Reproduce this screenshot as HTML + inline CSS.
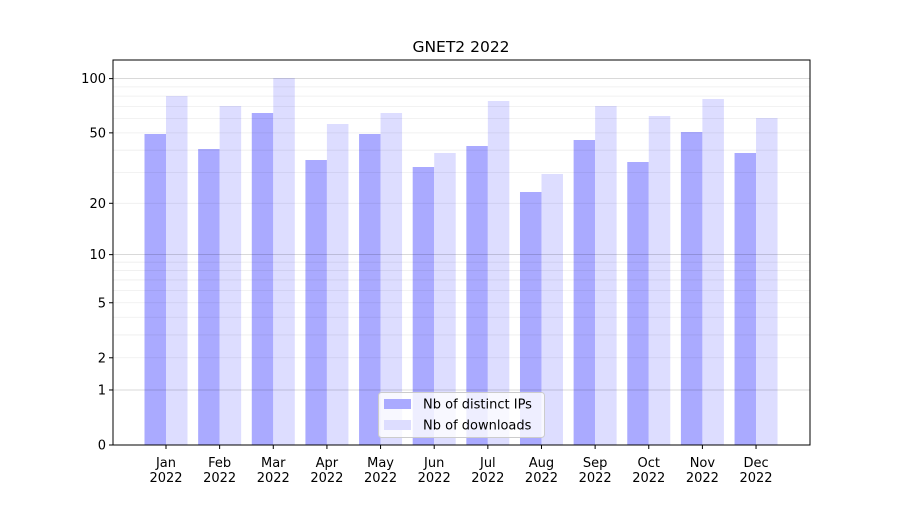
<!DOCTYPE html>
<html><head><meta charset="utf-8"><style>
html,body{margin:0;padding:0;background:#fff;}
svg text{font-family:"DejaVu Sans","Liberation Sans",sans-serif;fill:#000;}
</style></head><body>
<svg id="s" width="900" height="500" xmlns="http://www.w3.org/2000/svg"></svg>
<script>
const s=document.getElementById('s');
let h='';
const K=182.8, Y0=445;
const y=v=>Y0-K*Math.log10(1+v);
const L=113,R=810,T=60;
const dark=[134,149,113,160,134,167,146,192,140,162,132,153];
const light=[96,106,78,124,113,153,101,174,106,116,99,118];
const mons=['Jan','Feb','Mar','Apr','May','Jun','Jul','Aug','Sep','Oct','Nov','Dec'];
const sp=53.64, bw=21.5;
for(let i=0;i<12;i++){
 const c=166+i*sp;
 h+=`<rect x="${c-bw}" y="${dark[i]}" width="${bw}" height="${Y0-dark[i]}" fill="#aaaaff"/>`;
 h+=`<rect x="${c}" y="${light[i]}" width="${bw}" height="${Y0-light[i]}" fill="#ddddff"/>`;
}
// minor grid
for(const d of [1,10]) for(let m=2;m<=9;m++){const v=d*m;const yy=y(v);h+=`<line x1="${L}" x2="${R}" y1="${yy}" y2="${yy}" stroke="#000" stroke-opacity="0.07" stroke-width="0.8"/>`;}
for(const v of [1,10,100]){const yy=y(v);h+=`<line x1="${L}" x2="${R}" y1="${yy}" y2="${yy}" stroke="#000" stroke-opacity="0.2" stroke-width="0.8"/>`;}
h+=`<rect x="${L}" y="${T}" width="${R-L}" height="${Y0-T}" fill="none" stroke="#000" stroke-width="1"/>`;
// y ticks
for(const v of [0,1,2,5,10,20,50,100]){const yy=y(v);h+=`<line x1="${L-4}" x2="${L}" y1="${yy}" y2="${yy}" stroke="#000"/><text x="${L-7}" y="${yy+4.5}" font-size="13" text-anchor="end">${v}</text>`;}
for(let i=0;i<12;i++){const c=166+i*sp;h+=`<line x1="${c}" x2="${c}" y1="${Y0}" y2="${Y0+4}" stroke="#000"/><text x="${c}" y="${Y0+22}" font-size="13" text-anchor="middle">${mons[i]}</text><text x="${c}" y="${Y0+37}" font-size="13" text-anchor="middle">2022</text>`;}
h+=`<text x="461" y="52" font-size="15.5" text-anchor="middle">GNET2 2022</text>`;
h+=`<rect x="378.5" y="392.5" width="166" height="45" rx="3" fill="#fff" fill-opacity="0.8" stroke="#ccc"/>`;
h+=`<rect x="384" y="399" width="27" height="10" fill="#aaaaff"/><rect x="384" y="420" width="27" height="10" fill="#ddddff"/>`;
h+=`<text x="423" y="408.5" font-size="13">Nb of distinct IPs</text><text x="423" y="429.5" font-size="13">Nb of downloads</text>`;
s.innerHTML=h;
</script>
</body></html>
